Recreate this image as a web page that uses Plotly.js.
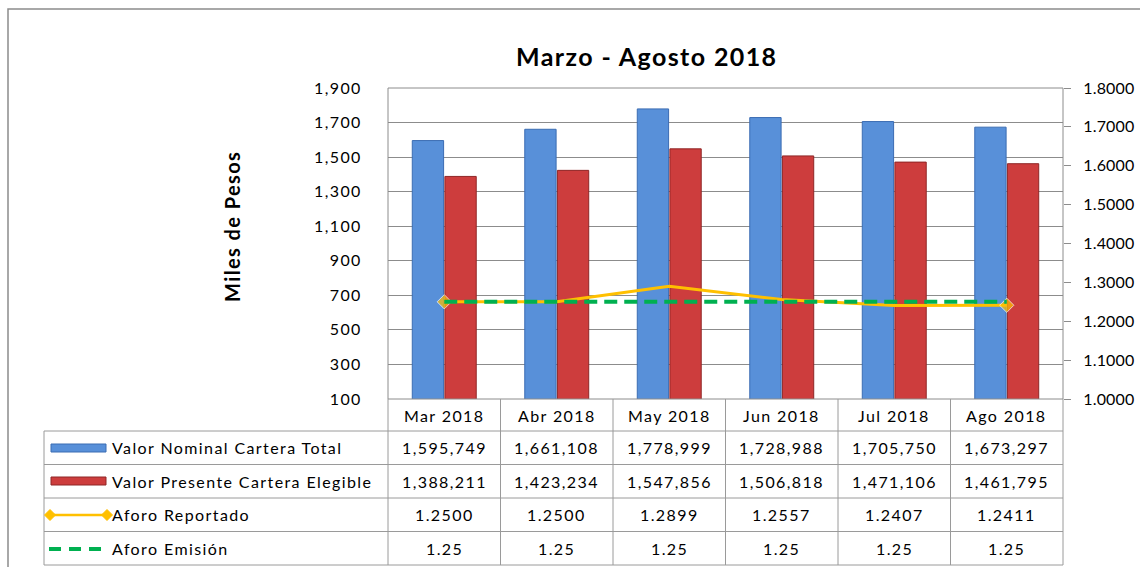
<!DOCTYPE html>
<html>
<head>
<meta charset="utf-8">
<script src="https://cdn.plot.ly/plotly-3.0.1.min.js"></script>
<style>
html,body{margin:0;padding:0;background:#fff;}
#chart{width:1140px;height:567px;}
svg text{letter-spacing:1.4px;}
#chart .y2tick text{letter-spacing:0.2px;}
</style>
</head>
<body>
<div id="chart"></div>
<script>
// ---- data ----
const categories = ['Mar 2018','Abr 2018','May 2018','Jun 2018','Jul 2018','Ago 2018'];
const valorNominal = [1595749, 1661108, 1778999, 1728988, 1705750, 1673297];
const valorPresente = [1388211, 1423234, 1547856, 1506818, 1471106, 1461795];
const aforoReportado = [1.2500, 1.2500, 1.2899, 1.2557, 1.2407, 1.2411];
const aforoEmision = [1.25, 1.25, 1.25, 1.25, 1.25, 1.25];
const seriesNames = ['Valor Nominal Cartera Total','Valor Presente Cartera Elegible','Aforo Reportado','Aforo Emisión'];
const chartTitle = 'Marzo - Agosto 2018';
const yTitle = 'Miles de Pesos';

// ---- geometry helpers (pixel -> paper) ----
const L = 388, R = 1063, T = 88, B = 399;
const W = R - L, H = B - T;
const px = x => (x - L) / W;
const py = y => (B - y) / H;
const FONT = 'Lato, "Open Sans", sans-serif';
const FS = 16;
const gridC = '#8c8c8c', tblC = '#9a9a9a';

const fmtInt = v => v.toLocaleString('en-US');
const fmt4 = v => v.toFixed(4);
const fmt2 = v => v.toFixed(2);

const traces = [
  {type:'bar', x:categories, y:valorNominal.map(v=>v/1000), name:seriesNames[0],
   marker:{color:'#5890d9', line:{color:'#3b6cb3', width:1}}, hoverinfo:'skip'},
  {type:'bar', x:categories, y:valorPresente.map(v=>v/1000), name:seriesNames[1],
   marker:{color:'#cd3d3d', line:{color:'#8f2626', width:1}}, hoverinfo:'skip'},
  {type:'scatter', mode:'lines+markers', x:categories, y:aforoReportado, yaxis:'y2', name:seriesNames[2],
   line:{color:'#ffc000', width:3},
   marker:{symbol:'diamond', color:'#ffc000', size:[11,0,0,0,0,11]}, hoverinfo:'skip'},
  {type:'scatter', mode:'lines', x:categories, y:aforoEmision, yaxis:'y2', name:seriesNames[3],
   line:{color:'#00b050', width:4, dash:'13px,7px'}, hoverinfo:'skip'}
];

const shapes = [];
const annotations = [];
function hline(y, x0, x1, color, w){ shapes.push({type:'line', xref:'paper', yref:'paper', x0:px(x0), x1:px(x1), y0:py(y), y1:py(y), line:{color:color||tblC, width:w||1}}); }
function vline(x, y0, y1, color, w){ shapes.push({type:'line', xref:'paper', yref:'paper', x0:px(x), x1:px(x), y0:py(y0), y1:py(y1), line:{color:color||tblC, width:w||1}}); }

// outer chart border
shapes.push({type:'rect', xref:'paper', yref:'paper', x0:px(8), x1:px(1160), y0:py(9), y1:py(600), line:{color:'#8c8c8c', width:1.5}, fillcolor:'rgba(0,0,0,0)'});
// plot area border
shapes.push({type:'rect', xref:'paper', yref:'paper', x0:0, x1:1, y0:0, y1:1, line:{color:gridC, width:1}, fillcolor:'rgba(0,0,0,0)'});

// table
const rowY = [431, 464.5, 498, 531.5, 565];
rowY.forEach(y => hline(y, 44, R));
vline(44, 431, 565);
const colW = W / categories.length;
for (let i = 0; i <= categories.length; i++) vline(L + i*colW, B, 565);

// header labels
categories.forEach(c => annotations.push({xref:'x', yref:'paper', x:c, y:py(415), text:c, showarrow:false, font:{family:FONT, size:FS, color:'#000'}, xanchor:'center', yanchor:'middle'}));

const rows = [
  valorNominal.map(fmtInt),
  valorPresente.map(fmtInt),
  aforoReportado.map(fmt4),
  aforoEmision.map(fmt2)
];
rows.forEach((vals, r) => {
  const yc = (rowY[r] + rowY[r+1]) / 2;
  vals.forEach((t, i) => annotations.push({xref:'x', yref:'paper', x:categories[i], y:py(yc), text:t, showarrow:false, font:{family:FONT, size:FS, color:'#000'}, xanchor:'center', yanchor:'middle'}));
  annotations.push({xref:'paper', yref:'paper', x:px(110), y:py(yc), text:seriesNames[r], showarrow:false, font:{family:FONT, size:FS, color:'#000'}, xanchor:'left', yanchor:'middle'});
});

// y axis title
annotations.push({xref:'paper', yref:'paper', x:px(232), y:py(227), text:'<b>'+yTitle+'</b>', textangle:-90, showarrow:false, font:{family:FONT, size:20, color:'#000'}, xanchor:'center', yanchor:'middle'});
// chart title
annotations.push({xref:'paper', yref:'paper', x:px(646.5), y:py(56), text:'<b>'+chartTitle+'</b>', showarrow:false, font:{family:FONT, size:25, color:'#000'}, xanchor:'center', yanchor:'middle'});

// legend keys
shapes.push({type:'rect', xref:'paper', yref:'paper', x0:px(51), x1:px(106), y0:py(444), y1:py(452), fillcolor:'#5890d9', line:{color:'#3b6cb3', width:1}});
shapes.push({type:'rect', xref:'paper', yref:'paper', x0:px(51), x1:px(106), y0:py(477), y1:py(485), fillcolor:'#cd3d3d', line:{color:'#8f2626', width:1}});
hline(515, 50, 107, '#ffc000', 2.5);
[50, 107].forEach(x => {
  const d = 5.5;
  shapes.push({type:'path', xref:'paper', yref:'paper',
    path:`M ${px(x-d)} ${py(515)} L ${px(x)} ${py(515-d)} L ${px(x+d)} ${py(515)} L ${px(x)} ${py(515+d)} Z`,
    fillcolor:'#ffc000', line:{color:'#ffc000', width:1}});
});
shapes.push({type:'line', xref:'paper', yref:'paper', x0:px(49), x1:px(104), y0:py(549), y1:py(549), line:{color:'#00b050', width:4, dash:'12px,8px'}});

const layout = {
  width:1140, height:567,
  margin:{l:L, r:1140-R, t:T, b:567-B, pad:0},
  paper_bgcolor:'#fff', plot_bgcolor:'#fff',
  showlegend:false,
  barmode:'group', bargap:0.42, bargroupgap:0.04,
  font:{family:FONT, color:'#000'},
  xaxis:{showticklabels:false, showgrid:false, zeroline:false, ticks:'', showline:false, fixedrange:true},
  yaxis:{range:[100,1900], dtick:200, tick0:100, tickformat:',d', showgrid:true, gridcolor:gridC, gridwidth:1, zeroline:false,
         ticks:'outside', ticklen:22, tickcolor:'rgba(0,0,0,0)', tickfont:{family:FONT, size:FS, color:'#000'}, showline:false},
  yaxis2:{overlaying:'y', side:'right', range:[1,1.8], dtick:0.1, tick0:1, tickformat:'.4f', showgrid:false, zeroline:false,
          ticks:'outside', ticklen:7, tickcolor:gridC, tickfont:{family:FONT, size:FS, color:'#000'}, ticklabelstandoff:9, showline:false},
  shapes:shapes, annotations:annotations
};

Plotly.newPlot('chart', traces, layout, {displayModeBar:false, staticPlot:true});
</script>
</body>
</html>
